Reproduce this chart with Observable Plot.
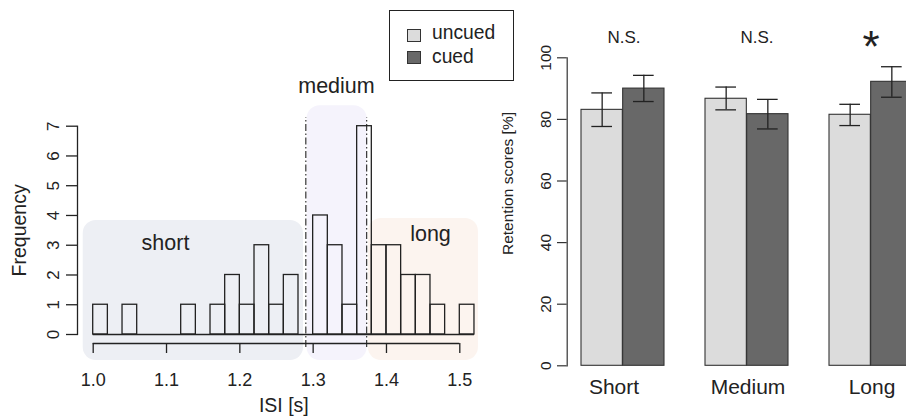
<!DOCTYPE html>
<html><head><meta charset="utf-8">
<script src="https://cdn.jsdelivr.net/npm/d3@7"></script>
<script src="https://cdn.jsdelivr.net/npm/@observablehq/plot@0.6"></script>
<style>
html,body{margin:0;padding:0;background:#fff;overflow:hidden;}
#wrap{position:relative;width:906px;height:417px;overflow:hidden;font-family:"Liberation Sans",Arial,sans-serif;color:#222;}
#left,#right{position:absolute;top:0;}
#left{left:0;width:500px;}
#right{left:500px;width:430px;}
#left svg,#right svg{max-width:none !important;}
#legend{position:absolute;left:389px;top:10px;width:123px;height:69px;border:1.3px solid #222;background:#fff;}
.sw{position:absolute;width:12px;height:11px;border:1px solid #333;}
.lt{position:absolute;font-size:19.3px;line-height:1;white-space:nowrap;}
</style>
</head><body>
<div id="wrap">
  <div id="left"></div>
  <div id="right"></div>
  <div id="legend"></div>
</div>
<script>
// ---------- Histogram data (left panel) ----------
const binStarts = [1.00,1.02,1.04,1.06,1.08,1.10,1.12,1.14,1.16,1.18,1.20,1.22,1.24,1.26,1.28,1.30,1.32,1.34,1.36,1.38,1.40,1.42,1.44,1.46,1.48,1.50];
const binEnds   = [1.02,1.04,1.06,1.08,1.10,1.12,1.14,1.16,1.18,1.20,1.22,1.24,1.26,1.28,1.30,1.32,1.34,1.36,1.38,1.40,1.42,1.44,1.46,1.48,1.50,1.52];
const counts    = [1,0,1,0,0,0,1,0,1,2,1,3,1,2,0,4,3,1,7,3,3,2,2,1,0,1];
const cutoffs = [1.29, 1.373];
const histXTicks = [1.0, 1.1, 1.2, 1.3, 1.4, 1.5];
const histYTicks = [0, 1, 2, 3, 4, 5, 6, 7];
const regionNames = ["short", "medium", "long"];
const regionX1 = [0.9864, 1.2918, 1.3754];
const regionX2 = [1.2868, 1.3736, 1.5254];
const regionTop = [3.83, 7.69, 3.90];
const regionBottom = [-0.874, -0.874, -0.874];
const regionLabelX = [1.0986, 1.3318, 1.46];
const regionLabelY = [3.06, 8.34, 3.39];
const regionColors = ["#edeff4", "#f5f3fc", "#fcf4ef"];

// ---------- Bar chart data (right panel) ----------
const groups = ["Short", "Medium", "Long"];
const conditions = ["uncued", "cued"];
const uncuedMean = [83.1, 86.7, 81.5];
const uncuedLo   = [77.7, 83.1, 78.0];
const uncuedHi   = [88.6, 90.5, 84.9];
const cuedMean   = [90.0, 81.7, 92.2];
const cuedLo     = [85.8, 76.9, 87.2];
const cuedHi     = [94.3, 86.5, 97.1];
const sigLabels  = ["N.S.", "N.S.", "*"];
const barYTicks  = [0, 20, 40, 60, 80, 100];
const condColors = ["#dcdcdc", "#686868"];

// layout nudges (px) for annotation text, as in the original figure
const GROUP_LABEL_NUDGE = {Short: -9, Medium: 1, Long: 1};
const SIG_NUDGE = {Short: 1, Medium: 10, Long: 0};

const FONT = "Liberation Sans, Arial, sans-serif";
const INK = "#222";

// ---------- Left panel ----------
const bins = binStarts.map((s, i) => ({x1: s, x2: binEnds[i], count: counts[i]}));
const regions = regionNames.map((n, i) => ({
  name: n, x1: regionX1[i], x2: regionX2[i], y1: regionBottom[i], y2: regionTop[i],
  lx: regionLabelX[i], ly: regionLabelY[i], color: regionColors[i]
}));

const MID = {textAnchor: "middle", lineAnchor: "middle"};

const left = Plot.plot({
  width: 500, height: 417,
  marginLeft: 77, marginRight: 20, marginTop: 125.7, marginBottom: 83,
  x: {domain: [1.0, 1.5], range: [92.7, 459.3]},
  y: {domain: [0, 7]},
  style: {fontFamily: FONT, background: "transparent", overflow: "visible", color: INK},
  marks: [
    Plot.rect(regions, {x1: "x1", x2: "x2", y1: "y1", y2: "y2", fill: "color", rx: 13}),
    Plot.text(regions, {x: "lx", y: "ly", text: "name", fontSize: 21.5, fill: INK, ...MID}),
    Plot.rectY(bins, {x1: "x1", x2: "x2", y1: 0, y2: "count", fill: "none", stroke: INK, strokeWidth: 1.3}),
    Plot.ruleY([0], {x1: binStarts[0], x2: binEnds[binEnds.length - 1], stroke: INK, strokeWidth: 1.3}),
    Plot.ruleX(cutoffs, {x: d => d, y1: -0.437, y2: 7.29, stroke: INK, strokeWidth: 1.1, strokeDasharray: "7,2.5,1.5,2.5"}),
    Plot.frame({anchor: "left", stroke: INK, strokeWidth: 1.3}),
    Plot.axisY({ticks: histYTicks, tickSize: 11, tickFormat: () => "", stroke: INK, strokeWidth: 1.3, label: null}),
    Plot.text(histYTicks, {y: d => d, text: d => String(d), frameAnchor: "left", dx: -24, rotate: -90, fontSize: 17, fill: INK, ...MID}),
    Plot.ruleY([0], {x1: histXTicks[0], x2: histXTicks[histXTicks.length - 1], dy: 9, stroke: INK, strokeWidth: 1.3}),
    Plot.axisX({ticks: histXTicks, tickSize: 10, tickPadding: 20, dy: 9, tickFormat: d3.format(".1f"), fontSize: 18, stroke: INK, strokeWidth: 1.3, label: null, fill: INK}),
    Plot.text(["ISI [s]"], {x: 1.26, text: d => d, frameAnchor: "bottom", dy: 71, fontSize: 19.5, fill: INK, ...MID}),
    Plot.text(["Frequency"], {y: 3.5, text: d => d, frameAnchor: "left", dx: -57.5, rotate: -90, fontSize: 19.5, fill: INK, ...MID})
  ]
});
document.getElementById("left").appendChild(left);

// ---------- Right panel ----------
const uncued = groups.map((g, i) => ({group: g, cond: "uncued", value: uncuedMean[i], lo: uncuedLo[i], hi: uncuedHi[i]}));
const cued = groups.map((g, i) => ({group: g, cond: "cued", value: cuedMean[i], lo: cuedLo[i], hi: cuedHi[i]}));
const sig = groups.map((g, i) => ({group: g, label: sigLabels[i]}));
const half = 41.67;      // half of group band (px)
const capHalf = 10.5;    // half of error-bar cap width (px)

const groupLabelMarks = groups.map(g =>
  Plot.text([g], {x: d => d, text: d => d, frameAnchor: "bottom", dy: 21.3, dx: GROUP_LABEL_NUDGE[g], fontSize: 21, fill: INK, ...MID}));
const sigMarks = sig.map(s =>
  Plot.text([s], {x: "group", text: "label", frameAnchor: "top", dx: SIG_NUDGE[s.group],
    dy: s.label === "*" ? -9.9 : -20.4, fontSize: s.label === "*" ? 44 : 17, fill: INK, ...MID}));

const right = Plot.plot({
  width: 430, height: 417,
  marginLeft: 66.7, marginRight: 3.3, marginTop: 57.3, marginBottom: 51.7,
  x: {domain: groups, paddingInner: 1/3, paddingOuter: 0.1067, axis: null},
  y: {domain: [0, 100], axis: null},
  color: {domain: conditions, range: condColors},
  style: {fontFamily: FONT, background: "transparent", overflow: "visible", color: INK},
  marks: [
    Plot.barY(uncued, {x: "group", y: "value", fill: "cond", stroke: "#333", strokeWidth: 1.1, insetRight: half}),
    Plot.barY(cued, {x: "group", y: "value", fill: "cond", stroke: "#333", strokeWidth: 1.1, insetLeft: half}),
    Plot.ruleX(uncued, {x: "group", y1: "lo", y2: "hi", dx: -half / 2, stroke: INK, strokeWidth: 1.3}),
    Plot.ruleX(cued, {x: "group", y1: "lo", y2: "hi", dx: half / 2, stroke: INK, strokeWidth: 1.3}),
    Plot.tickY(uncued, {x: "group", y: "hi", insetLeft: half / 2 - capHalf, insetRight: half * 1.5 - capHalf, stroke: INK, strokeWidth: 1.3}),
    Plot.tickY(uncued, {x: "group", y: "lo", insetLeft: half / 2 - capHalf, insetRight: half * 1.5 - capHalf, stroke: INK, strokeWidth: 1.3}),
    Plot.tickY(cued, {x: "group", y: "hi", insetLeft: half * 1.5 - capHalf, insetRight: half / 2 - capHalf, stroke: INK, strokeWidth: 1.3}),
    Plot.tickY(cued, {x: "group", y: "lo", insetLeft: half * 1.5 - capHalf, insetRight: half / 2 - capHalf, stroke: INK, strokeWidth: 1.3}),
    Plot.frame({anchor: "left", stroke: "#333", strokeWidth: 1.2}),
    Plot.axisY({ticks: barYTicks, tickSize: 9.7, tickFormat: () => "", stroke: "#333", strokeWidth: 1.2, label: null}),
    Plot.text(barYTicks, {y: d => d, text: d => String(d), frameAnchor: "left", dx: -21, rotate: -90, fontSize: 15.5, fill: INK, ...MID}),
    Plot.text(["Retention scores [%]"], {text: d => d, frameAnchor: "left", dx: -59, dy: -28.3, rotate: -90, fontSize: 15.5, fill: INK, ...MID}),
    ...groupLabelMarks,
    ...sigMarks
  ]
});
document.getElementById("right").appendChild(right);

// ---------- Legend ----------
const legend = document.getElementById("legend");
conditions.forEach((c, i) => {
  const sw = document.createElement("div");
  sw.className = "sw";
  sw.style.left = "17px";
  sw.style.top = (17.5 + i * 22.8) + "px";
  sw.style.background = condColors[i];
  legend.appendChild(sw);
  const t = document.createElement("div");
  t.className = "lt";
  t.style.left = "42px";
  t.style.top = (12.4 + i * 23.3) + "px";
  t.textContent = c;
  legend.appendChild(t);
});
</script>
</body></html>
